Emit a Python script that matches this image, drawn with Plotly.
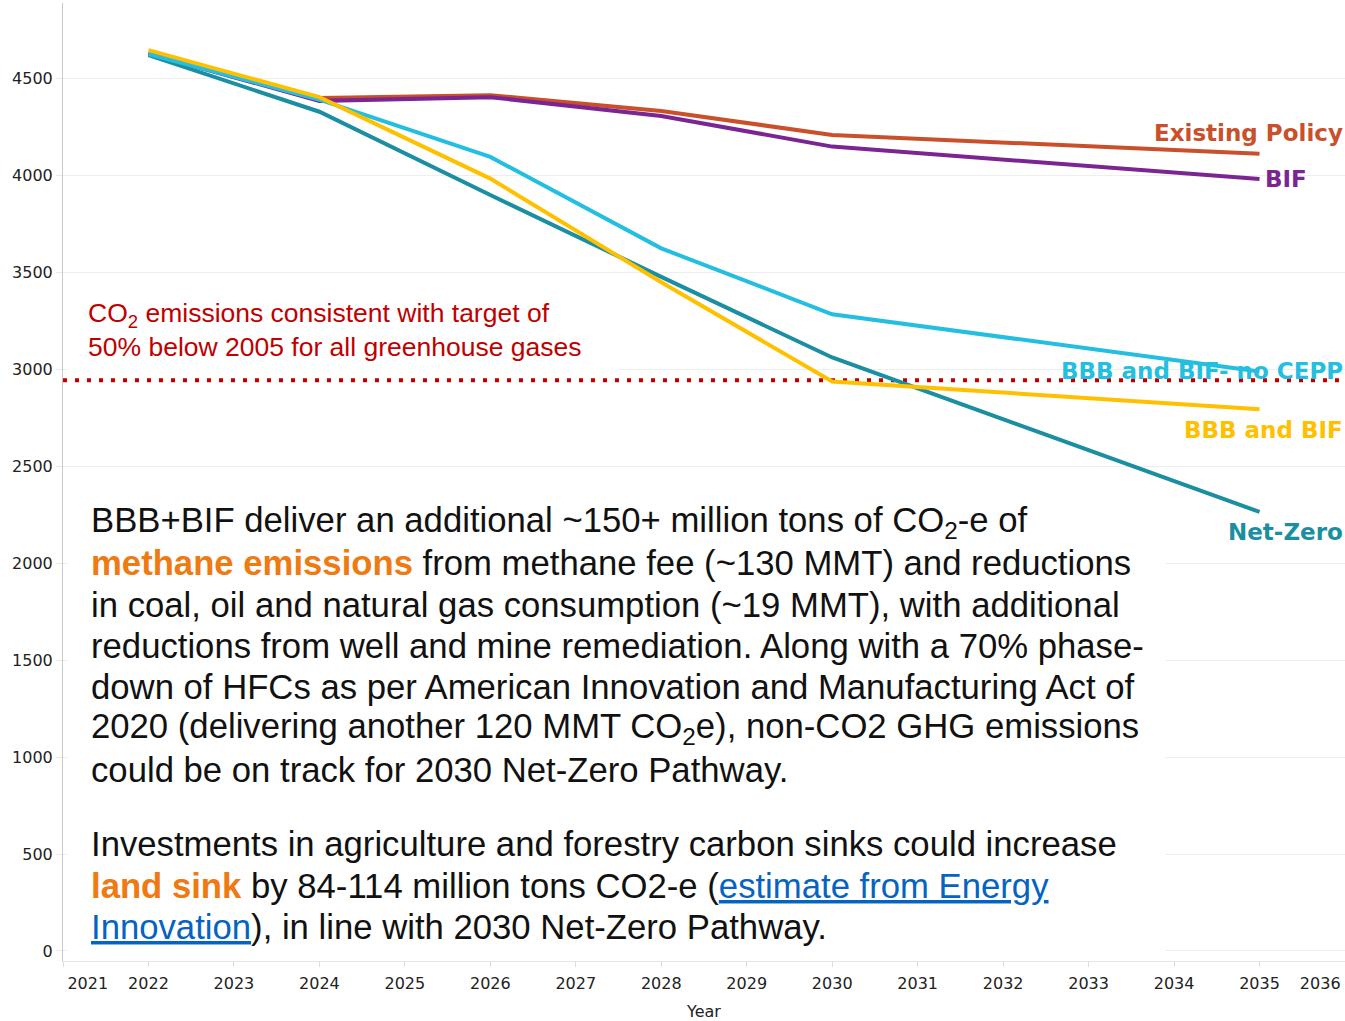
import plotly.graph_objects as go

# Emissions pathways (million metric tons CO2) by year
years = [2022, 2024, 2026, 2028, 2030, 2035]
existing_policy = [4634, 4401, 4415, 4334, 4210, 4113]
bif = [4630, 4386, 4405, 4308, 4150, 3983]
net_zero = [4622, 4330, 3900, 3478, 3062, 2265]
bbb_bif_no_cepp = [4628, 4392, 4097, 3625, 3285, 2990]
bbb_and_bif = [4648, 4405, 3985, 3450, 2938, 2795]

# CO2 level consistent with 50% below 2005 for all GHGs
target_years = [2021, 2036]
target_level = 2945

y_ticks = [0, 500, 1000, 1500, 2000, 2500, 3000, 3500, 4000, 4500]
x_tick_labels = ["2021"] + [str(y) for y in range(2022, 2036)] + ["2036"]

series = [
    ("Existing Policy", existing_policy, "#c9502a"),
    ("BIF", bif, "#7b2593"),
    ("Net-Zero", net_zero, "#1b8fa1"),
    ("BBB and BIF- no CEPP", bbb_bif_no_cepp, "#24bfe0"),
    ("BBB and BIF", bbb_and_bif, "#ffc000"),
]

fig = go.Figure()

fig.add_trace(go.Scatter(
    x=target_years, y=[target_level, target_level], mode="lines",
    line=dict(color="#c00000", width=4, dash="4px,8px"),
    showlegend=False, hoverinfo="skip",
))

for name, vals, color in series:
    fig.add_trace(go.Scatter(
        x=years, y=vals, mode="lines", name=name,
        line=dict(color=color, width=4),
        showlegend=False,
    ))

# End-of-line labels
label_font = dict(family="DejaVu Sans", size=23, weight="bold")
end_labels = [
    ("Existing Policy", existing_policy[-1], "#c9502a", 2036, "right", 21),
    ("BIF", bif[-1], "#7b2593", 2035, "left", 0),
    ("BBB and BIF- no CEPP", bbb_bif_no_cepp[-1], "#24bfe0", 2036, "right", 0),
    ("BBB and BIF", bbb_and_bif[-1], "#ffc000", 2036, "right", -21),
    ("Net-Zero", net_zero[-1], "#1b8fa1", 2036, "right", -20),
]
for text, yv, color, xv, anchor, shift in end_labels:
    fig.add_annotation(
        x=xv, y=yv, xref="x", yref="y", text=text, showarrow=False,
        xanchor=anchor, yanchor="middle", yshift=shift,
        xshift=3 if anchor == "left" else 0,
        font=dict(label_font, color=color),
    )

# White panels that keep gridlines out from behind the notes
fig.add_shape(type="rect", xref="x", yref="y", x0=2021.05, x1=2033.9,
              y0=-45, y1=2360, fillcolor="white", line=dict(width=0),
              layer="between")
fig.add_shape(type="rect", xref="x", yref="y", x0=2021.05, x1=2027.5,
              y0=2985, y1=3420, fillcolor="white", line=dict(width=0),
              layer="between")

PLOT_TOP, PLOT_H = 3, 958  # plot area in pixels


def add_lines(lines, left_px, first_px, step_px, font):
    """Place a block of text one line at a time (fixed line pitch)."""
    for i, line in enumerate(lines):
        py = first_px + i * step_px
        fig.add_annotation(
            x=(left_px - 63) / 1282, y=1 - (py - PLOT_TOP) / PLOT_H,
            xref="paper", yref="paper", xanchor="left", yanchor="middle",
            align="left", showarrow=False, text=line, font=font,
            borderpad=0,
        )


note_lines = [
    "CO<sub>2</sub> emissions consistent with target of",
    "50% below 2005 for all greenhouse gases",
]
add_lines(note_lines, 87, 315, 32,
          dict(family="Liberation Sans", size=26.5, color="#c00000"))

orange = "#f07a12"
link = "#0563c1"


def hl(t):
    return f"<b><span style='color:{orange}'>{t}</span></b>"


def ln(t):
    return f"<span style='color:{link};text-decoration:underline'>{t}</span>"


para1 = [
    "BBB+BIF deliver an additional ~150+ million tons of CO<sub>2</sub>-e of",
    hl("methane emissions") + " from methane fee (~130 MMT) and reductions",
    "in coal, oil and natural gas consumption (~19 MMT), with additional",
    "reductions from well and mine remediation. Along with a 70% phase-",
    "down of HFCs as per American Innovation and Manufacturing Act of",
    "2020 (delivering another 120 MMT CO<sub>2</sub>e), non-CO2 GHG emissions",
    "could be on track for 2030 Net-Zero Pathway.",
]
para2 = [
    "Investments in agriculture and forestry carbon sinks could increase",
    hl("land sink") + " by 84-114 million tons CO2-e (" + ln("estimate from Energy"),
    ln("Innovation") + "), in line with 2030 Net-Zero Pathway.",
]

body_font = dict(family="Liberation Sans", size=34.7, color="#111111")
add_lines(para1, 90, 522, 41.3, body_font)
add_lines(para2, 90, 844, 41.5, body_font)

tick_font = dict(family="DejaVu Sans", size=16, color="#222222")

fig.update_xaxes(
    range=[2021, 2036],
    tickmode="array",
    tickvals=[2021.29] + list(range(2022, 2036)) + [2035.71],
    ticktext=x_tick_labels,
    ticks="", tickfont=tick_font, ticklabelstandoff=8,
    minor=dict(tickmode="linear", tick0=2021, dtick=1, ticks="outside",
               ticklen=5, tickcolor="#dddddd", showgrid=False),
    showgrid=False, zeroline=False,
    showline=True, linecolor="#e4e4e4", linewidth=1,
    title=dict(text="Year", font=dict(family="DejaVu Sans", size=16, color="#222222"),
               standoff=14),
)
fig.update_yaxes(
    range=[-52, 4891],
    tickmode="array", tickvals=y_ticks,
    tickfont=tick_font, ticks="outside", ticklen=6, tickcolor="#e8e8e8",
    showgrid=True, gridcolor="#eeeeee", gridwidth=1,
    zeroline=False,
    showline=True, linecolor="#c8c8c8", linewidth=1,
)

fig.update_layout(
    width=1345, height=1021,
    margin=dict(l=63, r=0, t=3, b=60),
    plot_bgcolor="white", paper_bgcolor="white",
)

fig.write_html("out.html")
